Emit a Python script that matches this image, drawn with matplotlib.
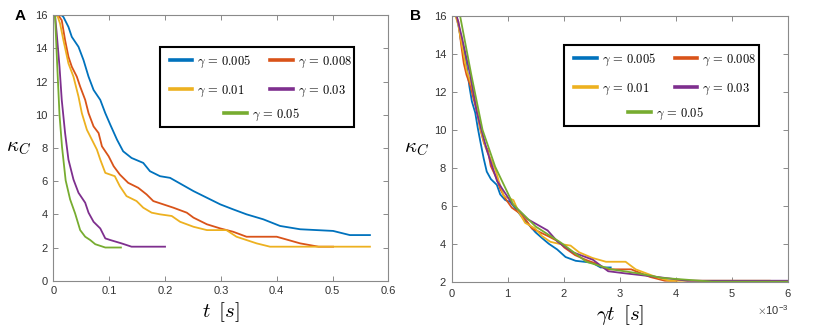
import matplotlib
matplotlib.use('Agg')
import numpy as np
import matplotlib.pyplot as plt
from matplotlib.patches import Rectangle
from matplotlib.lines import Line2D
from matplotlib.ticker import ScalarFormatter

plt.rcParams['font.family'] = ['Liberation Sans', 'DejaVu Sans']
plt.rcParams['mathtext.fontset'] = 'cm'

gammas = [0.005, 0.008, 0.01, 0.03, 0.05]
labels = [r'$\gamma\, =\, 0.005$', r'$\gamma\, =\, 0.008$', r'$\gamma\, =\, 0.01$',
          r'$\gamma\, =\, 0.03$', r'$\gamma\, =\, 0.05$']
colors = ['#0072BD', '#D95319', '#EDB120', '#7E2F8E', '#77AC30']

# kappa_C vs t
t_005 = [0, 0.015, 0.018, 0.027, 0.033, 0.045, 0.054, 0.063, 0.072, 0.084, 0.093, 0.102,
         0.114, 0.125, 0.140, 0.161, 0.173, 0.191, 0.209, 0.230, 0.251, 0.275, 0.299,
         0.322, 0.346, 0.376, 0.406, 0.442, 0.501, 0.531, 0.567]
k_005 = [16, 16, 15.9, 15.3, 14.7, 14.1, 13.3, 12.3, 11.5, 10.9, 10.1, 9.4,
         8.5, 7.8, 7.4, 7.1, 6.6, 6.3, 6.2, 5.8, 5.4, 5.0, 4.6,
         4.3, 4.0, 3.7, 3.3, 3.1, 3.0, 2.75, 2.75]

t_008 = [0, 0.009, 0.015, 0.021, 0.027, 0.033, 0.042, 0.048, 0.057, 0.063, 0.072, 0.081,
         0.087, 0.099, 0.108, 0.119, 0.134, 0.152, 0.167, 0.179, 0.197, 0.215, 0.239,
         0.251, 0.275, 0.299, 0.322, 0.346, 0.400, 0.442, 0.475, 0.501]
k_008 = [16, 16, 15.7, 14.5, 13.5, 12.9, 12.3, 11.7, 10.9, 10.1, 9.3, 8.9,
         8.1, 7.5, 6.9, 6.4, 5.9, 5.6, 5.2, 4.8, 4.6, 4.4, 4.1,
         3.8, 3.4, 3.15, 2.95, 2.65, 2.65, 2.25, 2.05, 2.05]

t_01 = [0, 0.007, 0.012, 0.018, 0.027, 0.036, 0.045, 0.051, 0.060, 0.069, 0.078, 0.084,
        0.093, 0.110, 0.119, 0.131, 0.149, 0.161, 0.176, 0.191, 0.212, 0.227, 0.251,
        0.275, 0.310, 0.328, 0.364, 0.388, 0.567]
k_01 = [16, 16, 15.5, 14.5, 13.1, 12.3, 11.1, 10.1, 9.1, 8.5, 7.9, 7.3,
        6.5, 6.3, 5.7, 5.1, 4.8, 4.4, 4.1, 4.0, 3.9, 3.55, 3.25,
        3.05, 3.05, 2.65, 2.25, 2.05, 2.05]

t_03 = [0, 0.003, 0.006, 0.011, 0.015, 0.021, 0.027, 0.036, 0.045, 0.057, 0.063, 0.072,
        0.084, 0.093, 0.102, 0.122, 0.140, 0.200]
k_03 = [16, 16, 14.9, 12.9, 10.9, 8.9, 7.3, 6.1, 5.3, 4.7, 4.1, 3.55,
        3.15, 2.55, 2.45, 2.25, 2.05, 2.05]

t_05 = [0, 0.003, 0.007, 0.011, 0.0155, 0.022, 0.030, 0.039, 0.048, 0.057, 0.066, 0.075,
        0.093, 0.121]
k_05 = [16, 16, 12.9, 10.0, 8.06, 6.05, 4.9, 4.05, 3.05, 2.65, 2.45, 2.2,
        2.0, 2.0]

t_all = [t_005, t_008, t_01, t_03, t_05]
k_all = [k_005, k_008, k_01, k_03, k_05]


def style_axes(ax):
    for s in ax.spines.values():
        s.set_color('#8a8a8a')
        s.set_linewidth(0.8)
    ax.tick_params(direction='in', top=True, right=True, length=3.5, width=0.7,
                   color='#8a8a8a', labelsize=8, labelcolor='#333333', pad=4)


def add_legend(ax, handles, box, row1, row3):
    ax.add_patch(Rectangle(box[:2], box[2], box[3], transform=ax.transAxes,
                           facecolor='white', edgecolor='black', lw=1.5, zorder=5))
    kw = dict(frameon=False, fontsize=9, handlelength=1.8, handletextpad=0.4,
              borderpad=0, borderaxespad=0, loc='upper left')
    # legend fills column-wise, so reorder to get rows (0.005, 0.008), (0.01, 0.03)
    order = [0, 2, 1, 3]
    leg1 = ax.legend([handles[i] for i in order], [labels[i] for i in order], ncol=2,
                     columnspacing=1.5, labelspacing=1.1, bbox_to_anchor=row1, **kw)
    leg1.set_zorder(6)
    ax.add_artist(leg1)
    leg2 = ax.legend(handles[4:], labels[4:], bbox_to_anchor=row3, **kw)
    leg2.set_zorder(6)


fig = plt.figure(figsize=(8.3, 3.31), dpi=100)
axA = fig.add_axes([0.0643, 0.152, 0.4036, 0.8018])
axB = fig.add_axes([0.5442, 0.149, 0.4055, 0.8027])

handles = [Line2D([], [], color=c, lw=2.6) for c in colors]

for t, k, c in zip(t_all, k_all, colors):
    axA.plot(t, k, color=c, lw=1.3)
axA.set_xlim(0, 0.6)
axA.set_ylim(0, 16)
axA.set_xticks(np.arange(0, 0.61, 0.1))
axA.set_yticks(np.arange(0, 17, 2))
axA.set_xticklabels(['0', '0.1', '0.2', '0.3', '0.4', '0.5', '0.6'])
style_axes(axA)
axA.set_xlabel(r'$t\ \,[s]$', fontsize=15, labelpad=3)
axA.set_ylabel(r'$\kappa_C$', fontsize=15, rotation=0, labelpad=12, va='center')
add_legend(axA, handles, (0.3185, 0.579, 0.579, 0.3027), (0.348, 0.856), (0.51, 0.6565))

for t, k, c, g in zip(t_all, k_all, colors, gammas):
    axB.plot(g * np.array(t), k, color=c, lw=1.3)
axB.set_xlim(0, 6e-3)
axB.set_ylim(2, 16)
axB.set_xticks(np.arange(0, 6.1e-3, 1e-3))
axB.set_yticks(np.arange(2, 17, 2))
fmt = ScalarFormatter(useMathText=True)
fmt.set_powerlimits((-2, 2))
axB.xaxis.set_major_formatter(fmt)
axB.xaxis.get_offset_text().set_fontsize(8)
axB.xaxis.get_offset_text().set_color('#333333')
style_axes(axB)
axB.set_xlabel(r'$\gamma t\ \,[s]$', fontsize=15, labelpad=3)
axB.set_ylabel(r'$\kappa_C$', fontsize=15, rotation=0, labelpad=12, va='center')
add_legend(axB, handles, (0.3336, 0.586, 0.5794, 0.305), (0.364, 0.866), (0.5247, 0.663))

fig.text(0.024, 0.952, 'A', fontsize=11, fontweight='bold', va='center', ha='center')
fig.text(0.5, 0.952, 'B', fontsize=11, fontweight='bold', va='center', ha='center')

fig.savefig('out.png', dpi=100)
